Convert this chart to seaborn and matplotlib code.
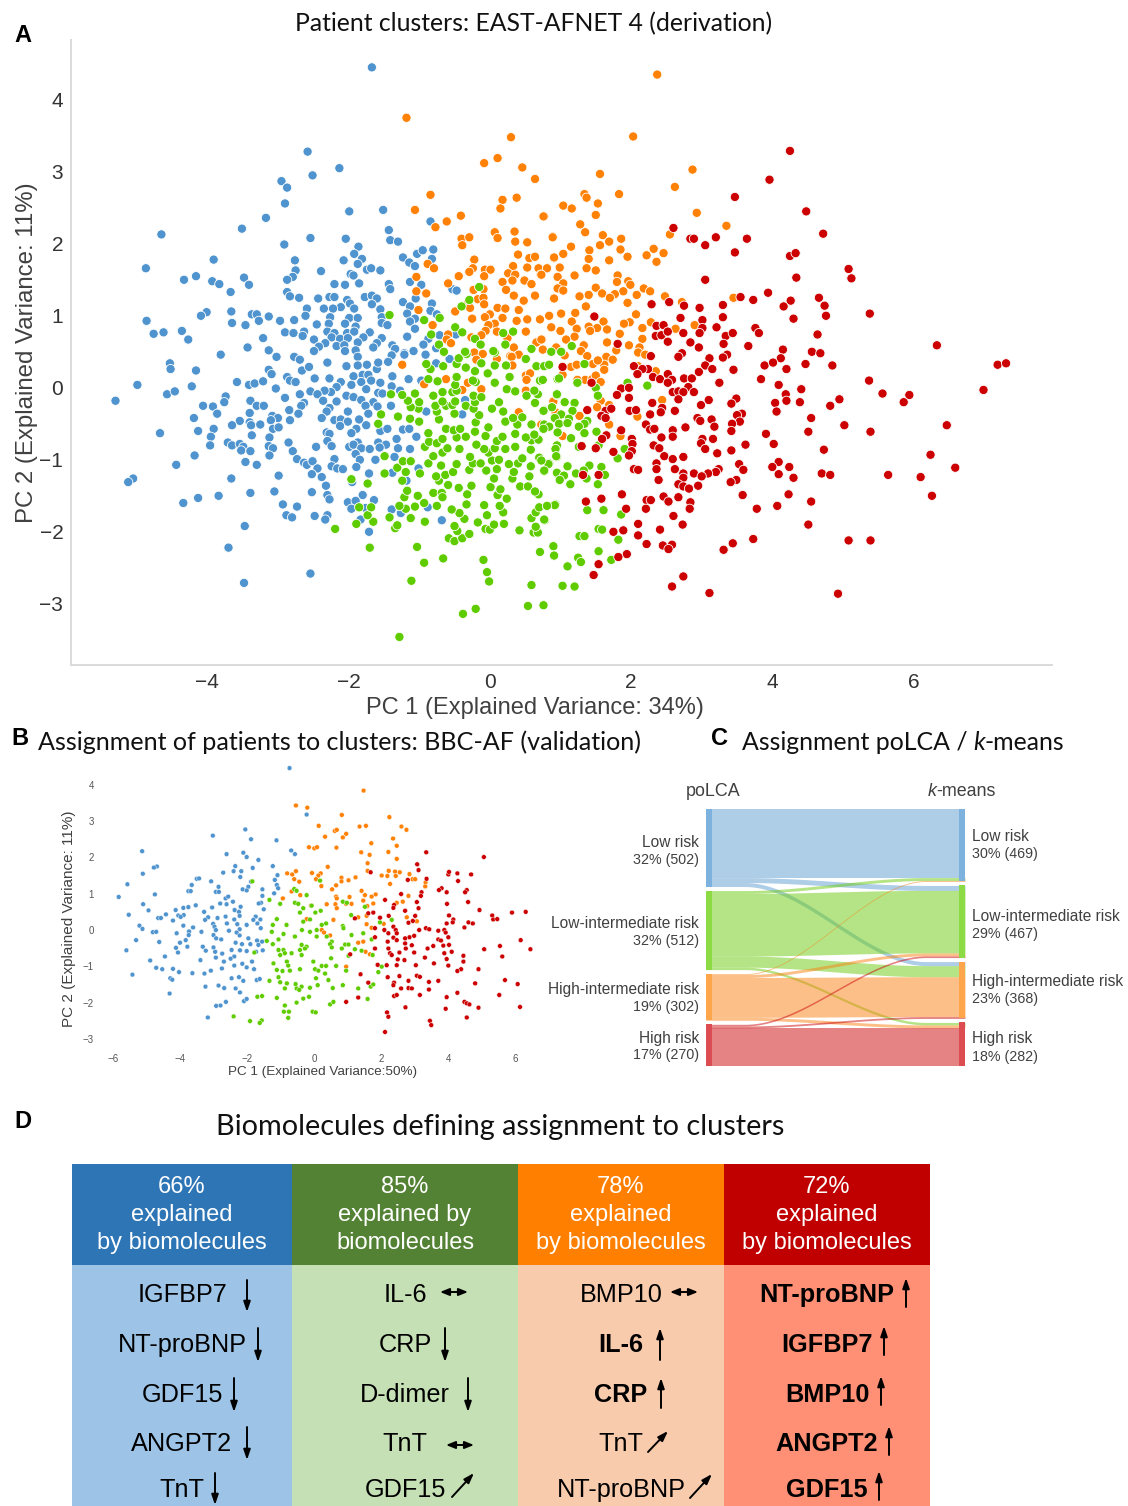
import numpy as np
import pandas as pd
import matplotlib
matplotlib.use('Agg')
import matplotlib.pyplot as plt
import seaborn as sns

sns.set_theme(style='white')
plt.rcParams['font.family'] = ['Liberation Sans', 'DejaVu Sans']

# panel A (PC1, PC2)
a_blue = [(-1.67,4.45),(-2.58,3.28),(-2.13,3.05),(-2.51,2.95),(-2.95,2.87),(-2.87,2.78),(-2.90,2.56),(-1.99,2.45),(-1.51,2.47),(-3.17,2.36),(-3.51,2.21),(-4.65,2.13),(-0.84,2.31),(-1.43,2.19),(-1.41,2.05),(-1.30,2.03),(-2.04,2.07),(-2.54,2.08),(-2.91,1.99),(-1.86,1.96),(-1.92,1.86),(-1.81,1.79),(-2.07,1.77),(-1.87,1.72),(-2.76,1.77),(-3.91,1.78),(-4.87,1.66),(-2.75,1.63),(-2.39,1.62),(-2.79,1.54),(-2.87,1.50),(-3.48,1.53),(-3.41,1.43),(-4.16,1.55),(-4.33,1.50),(-3.93,1.48),(-3.83,1.44),(-3.67,1.33),(-1.74,1.64),(-1.68,1.66),(-1.55,1.63),(-1.97,1.58),(-1.93,1.56),(-1.85,1.45),(-2.20,1.44),(-2.05,1.43),(-1.43,1.44),(-1.41,1.37),(-1.23,1.81),(-1.14,1.74),(-1.06,1.69),(-1.03,1.86),(-0.95,1.91),(-0.80,1.92),(-0.82,1.79),(-1.13,1.47),(-0.97,1.43),(-0.53,1.37),(-0.47,1.35),(-2.87,1.33),(-2.83,1.27),(-2.70,1.25),(-2.43,1.24),(-2.27,1.26),(-2.20,1.26),(-2.02,1.22),(-1.98,1.17),(-1.77,1.26),(-1.67,1.28),(-1.60,1.24),(-1.67,1.16),(-1.92,1.10),(-2.11,1.12),(-2.22,1.10),(-2.35,1.10),(-2.59,1.10),(-1.55,1.09),(-1.23,1.19),(-1.13,1.13),(-1.05,1.24),(-0.82,1.17),(-0.84,1.07),(-4.01,1.05),(-4.09,1.00),(-3.66,1.06),(-3.37,1.02),(-3.30,1.02),(-3.13,0.99),(-3.27,0.93),(-2.61,1.00),(-2.97,0.93),(-2.77,0.94),(-2.26,0.98),(-1.99,0.97),(-1.87,0.97),(-1.53,0.98),(-1.17,1.03),(-1.06,0.96),(-0.75,1.02),(-4.86,0.93),(-3.65,0.90),(-3.46,0.87),(-2.45,0.88),(-2.28,0.89),(-2.05,0.89),(-1.90,0.85),(-1.53,0.90),(-1.45,0.87),(-1.13,0.92),(-1.06,0.82),(-4.62,0.77),(-4.76,0.75),(-4.36,0.79),(-4.27,0.67),(-2.90,0.77),(-2.78,0.76),(-2.63,0.78),(-2.65,0.72),(-2.30,0.78),(-2.20,0.76),(-2.02,0.76),(-1.92,0.78),(-1.70,0.77),(-3.21,0.69),(-2.49,0.67),(-2.24,0.70),(-2.12,0.68),(-2.01,0.69),(-1.79,0.70),(-1.53,0.69),(-1.17,0.71),(-0.87,0.68),(-0.71,0.73),(-0.48,0.74),(-3.43,0.56),(-2.33,0.62),(-2.42,0.57),(-2.49,0.51),(-2.17,0.58),(-2.06,0.59),(-1.87,0.63),(-1.60,0.62),(-1.65,0.56),(-1.38,0.59),(-1.34,0.54),(-0.94,0.60),(-0.76,0.55),(-3.13,0.52),(-2.05,0.51),(-1.90,0.52),(-1.08,0.51),(-1.21,0.48),(-3.81,0.46),(-3.02,0.43),(-2.76,0.43),(-1.87,0.43),(-1.39,0.45),(-0.91,0.46),
(-4.53,0.34),(-4.52,0.26),(-4.16,0.24),(-4.99,0.04),(-5.30,-0.18),(-4.57,-0.09),(-4.46,-0.05),(-4.22,0.02),(-3.58,0.08),(-3.41,0.04),(-3.33,0.06),(-3.21,0.09),(-3.13,0.25),(-3.09,0.19),(-2.87,0.15),(-2.83,0.10),(-2.75,0.08),(-2.66,0.24),(-2.56,0.29),(-2.77,0.43),(-2.69,0.39),(-2.30,0.35),(-2.48,0.13),(-2.27,0.13),(-2.03,0.30),(-1.87,0.31),(-1.74,0.32),(-1.60,0.26),(-1.58,0.35),(-1.44,0.36),(-1.21,0.46),(-1.93,0.16),(-1.80,0.18),(-1.72,0.18),(-1.38,0.16),(-1.82,0.08),(-1.68,0.10),(-1.55,0.07),(-1.39,0.02),(-1.15,0.12),(-1.27,-0.04),(-1.96,0.04),(-2.11,0.08),(-2.17,0.01),(-2.25,-0.06),(-2.34,-0.04),(-2.54,-0.05),(-3.03,-0.01),(-2.69,-0.09),(-2.44,-0.09),(-1.75,-0.02),(-1.58,-0.07),(-1.52,-0.08),(-2.03,-0.11),(-1.93,-0.13),(-1.82,-0.17),(-2.17,-0.19),(-2.36,-0.18),(-2.90,-0.14),(-3.39,-0.18),(-3.74,-0.12),(-3.76,-0.20),(-2.63,-0.21),(-1.65,-0.20),(-1.76,-0.25),(-1.59,-0.26),(-1.40,-0.25),(-4.06,-0.25),(-3.92,-0.26),(-3.30,-0.25),(-3.20,-0.25),(-2.67,-0.25),(-3.86,-0.36),(-3.40,-0.35),(-2.84,-0.31),(-2.71,-0.36),(-2.27,-0.28),(-2.31,-0.33),(-2.01,-0.33),(-1.72,-0.36),(-0.90,-0.33),(-0.39,-0.37),(-4.19,-0.42),(-3.08,-0.39),(-3.00,-0.42),(-3.10,-0.45),(-3.54,-0.46),(-2.83,-0.45),(-2.38,-0.42),(-2.20,-0.45),(-2.11,-0.44),(-2.01,-0.47),(-1.85,-0.44),(-3.65,-0.52),(-3.40,-0.48),(-3.38,-0.52),(-3.25,-0.51),(-2.12,-0.53),(-1.75,-0.52),(-3.91,-0.57),(-4.13,-0.60),(-3.07,-0.57),(-2.99,-0.55),(-1.89,-0.57),(-1.96,-0.63),(-1.55,-0.60),(-1.45,-0.57),(-1.23,-0.58),(-1.14,-0.57),(-4.67,-0.63),(-3.95,-0.68),(-3.37,-0.66),(-3.12,-0.69),(-2.31,-0.62),(-2.27,-0.64),(-1.32,-0.71),(-1.04,-0.68),(-3.71,-0.76),(-2.85,-0.76),(-2.30,-0.74),(-1.87,-0.76),(-1.58,-0.76),(-3.96,-0.80),(-3.65,-0.80),(-3.54,-0.78),(-3.49,-0.82),(-3.13,-0.81),(-3.07,-0.84),(-2.46,-0.82),(-2.24,-0.81),(-1.99,-0.82),(-1.93,-0.79),(-1.47,-0.79),(-3.52,-0.87),(-3.39,-0.88),(-2.79,-0.88),(-1.82,-0.84),(-1.70,-0.85),(-1.56,-0.83),(-1.30,-0.84),(-1.13,-0.85),(-4.18,-0.94),(-3.12,-0.94),(-1.90,-0.92),(-2.73,-0.99),(-2.20,-0.99),(-1.84,-1.00),(-1.62,-1.00),(-1.35,-0.96),(-3.46,-1.03),(-4.44,-1.07),(-3.30,-1.07),(-2.63,-1.04),(-2.59,-1.07),(-2.51,-1.02),(-2.24,-1.09),(-2.16,-1.12),(-2.08,-1.13),(-1.89,-1.10),(-2.44,-1.12),(-1.01,-1.12),(-2.99,-1.22),(-2.52,-1.20),(-2.38,-1.24),(-1.71,-1.19),(-1.38,-1.18),(-1.18,-1.29),(-3.66,-1.26),(-5.05,-1.26),(-5.12,-1.31),(-1.95,-1.31),(-2.32,-1.36),(-2.52,-1.45),(-3.05,-1.44),(-3.39,-1.46),(-3.84,-1.50),(-4.13,-1.53),(-4.34,-1.60),(-2.30,-1.49),(-2.27,-1.55),(-1.80,-1.49),(-1.64,-1.56),(-2.01,-1.59),(-1.90,-1.57),(-2.93,-1.62),(-2.73,-1.65),(-1.96,-1.68),(-1.76,-1.67),(-1.39,-1.69),(-0.88,-1.66),(-2.88,-1.77),(-2.80,-1.80),(-2.48,-1.78),(-2.30,-1.77),(-2.33,-1.83),(-1.26,-1.74),(-1.83,-1.83),(-0.68,-1.84),(-3.47,-1.92),(-1.71,-2.00),(-3.70,-2.22),(-2.54,-2.58),(-3.48,-2.71),(-0.76,0.34),(-0.97,0.10),(-0.57,0.40),(-0.35,-0.17)]

a_orange = [(-1.18,3.75),(0.30,3.48),(-0.08,3.12),(0.11,3.19),(0.46,3.06),(0.64,2.90),(-0.84,2.68),(0.38,2.64),(0.18,2.61),(0.15,2.49),(-1.06,2.47),(0.77,2.38),(-0.61,2.31),(-0.41,2.39),(-0.77,2.23),(0.35,2.17),(0.07,2.16),(0.11,2.08),(0.89,2.10),(-0.40,2.07),(-0.29,2.09),(-0.39,1.98),(0.36,2.03),(0.53,2.02),(0.40,1.85),(0.56,1.80),(0.64,1.82),(0.91,1.80),(-0.22,1.78),(-0.88,1.72),(-0.79,1.66),(0.33,1.69),(0.53,1.67),(0.69,1.66),(0.81,1.66),(-0.07,1.64),(0.01,1.64),(-0.24,1.66),(-0.29,1.61),(0.26,1.59),(0.36,1.57),(0.72,1.57),(-0.08,1.55),(-0.44,1.55),(-1.04,1.54),(0.18,1.47),(0.32,1.49),(0.49,1.49),(-0.59,1.45),(0.59,1.44),(0.23,1.36),(-0.09,1.37),(-0.23,1.36),(-1.04,1.34),(-0.90,1.31),(0.34,1.28),(0.64,1.28),(-0.17,1.23),(-0.09,1.25),(0.48,1.21),(-0.08,1.16),(-0.32,1.16),(-0.28,1.11),(0.11,1.11),(0.22,1.10),(0.41,1.08),(-1.01,1.08),(-0.49,1.06),(0.00,1.02),(-0.07,0.98),(0.18,0.97),(-0.25,0.96),(0.38,0.93),(0.53,0.95),(0.71,0.95),(0.84,1.00),(0.07,0.89),(-0.81,0.87),(-0.02,0.87),(-0.06,0.79),(0.10,0.78),(0.51,0.78),(-0.59,0.74),(-0.61,0.67),(-0.12,0.73),(0.25,0.69),(-0.26,0.70),(0.74,0.67),(0.66,0.63),(-0.55,0.62),(0.34,0.56),(0.95,0.56),(0.75,0.53),(-0.22,0.49),(-0.10,0.47),(0.29,0.44),(0.41,0.46),
(2.37,4.35),(2.03,3.49),(2.87,3.03),(1.56,2.97),(2.62,2.79),(1.34,2.69),(1.37,2.64),(1.83,2.69),(1.53,2.56),(1.04,2.53),(1.16,2.49),(0.76,2.38),(1.50,2.40),(2.93,2.43),(3.35,2.25),(1.28,2.27),(1.35,2.16),(2.55,2.13),(1.60,2.12),(0.89,2.09),(1.86,2.07),(1.69,2.03),(1.56,1.98),(1.15,1.96),(1.41,1.91),(1.85,1.92),(1.04,1.86),(2.32,1.93),(2.46,1.87),(2.22,1.84),(1.95,1.82),(0.91,1.81),(1.40,1.79),(1.69,1.77),(2.36,1.75),(0.99,1.67),(0.81,1.66),(1.37,1.66),(1.50,1.63),(1.20,1.56),(0.73,1.57),(0.96,1.54),(1.81,1.56),(1.80,1.47),(1.96,1.48),(1.99,1.43),(1.04,1.45),(0.96,1.38),(1.04,1.35),(1.50,1.39),(1.59,1.31),(2.18,1.38),(2.27,1.34),(1.89,1.34),(1.77,1.30),(1.70,1.25),(1.40,1.29),(1.27,1.27),(2.08,1.29),(0.91,1.24),(2.48,1.27),(3.45,1.25),(1.95,1.18),(1.36,1.13),(2.72,1.19),(1.01,1.03),(1.21,1.04),(2.07,1.02),(0.84,1.00),(1.16,0.92),(1.61,0.92),(1.98,0.91),(1.90,0.89),(0.87,0.84),(1.23,0.82),(1.40,0.85),(1.52,0.83),(1.66,0.81),(1.00,0.79),(1.42,0.79),(2.16,0.83),(2.28,0.91),(2.90,0.87),(2.63,0.82),(1.84,0.75),(1.20,0.71),(2.16,0.68),(0.73,0.67),(1.08,0.67),(1.66,0.63),(1.97,0.59),(1.33,0.59),(0.94,0.56),(2.12,0.56),(1.79,0.52),(0.75,0.53),(1.29,0.51),(2.10,0.49),(2.20,0.46),(1.06,0.45),(1.38,0.44),(1.65,0.43),
(1.15,0.29),(1.23,0.32),(1.46,0.33),(1.62,0.32),(1.62,0.25),(1.74,0.39),(1.53,0.38),(2.10,0.30),(2.35,0.23),(1.03,0.18),(1.35,0.11),(1.45,0.12),(1.50,0.17),(1.57,0.08),(1.24,0.11),(2.44,-0.17),(0.90,-0.19),(1.57,-0.18),(1.69,-0.24),(1.52,-0.27),(1.27,-0.39),(2.09,-0.40),(1.69,-0.51),(1.03,-0.67),(1.85,-0.67),(-1.24,0.32),(-0.93,0.05),(-0.62,0.12),(-0.39,-0.03),(-0.12,-0.02),(-0.31,0.07),(0.51,0.17),(0.31,0.43),(0.10,0.40),(0.32,0.31),(0.57,0.20),(0.52,0.11),(-0.19,0.39),(0.51,-0.04),(0.41,-0.34),(0.90,-0.19),(0.93,-0.34),(0.73,-0.51)]

a_green = [(-1.28,-3.46),(-0.38,-3.14),(-0.20,-3.07),(0.54,-3.03),(0.76,-3.02),(-1.11,-2.68),(-0.93,-2.43),(-0.66,-2.37),(-1.03,-2.21),(-1.70,-2.22),(-0.09,-2.39),(-0.04,-2.56),(-0.01,-2.69),(0.59,-2.74),(0.71,-2.28),(0.90,-2.20),(0.91,-2.33),(-2.19,-1.96),(-1.89,-1.89),(-1.65,-1.86),(-1.73,-1.77),(-1.42,-1.80),(-1.34,-1.95),(-1.31,-1.91),(-1.12,-1.81),(-0.92,-1.86),(-0.58,-2.09),(-0.50,-2.13),(-0.39,-2.09),(-0.29,-2.03),(-0.46,-1.99),(-0.50,-1.92),(-0.17,-1.87),(-0.06,-1.96),(0.00,-1.97),(0.06,-1.90),(0.20,-1.89),(0.42,-1.98),(0.62,-2.01),(0.68,-2.01),(0.65,-1.93),(0.59,-1.81),(0.78,-1.84),(-0.36,-1.82),(-0.04,-1.77),(0.19,-1.73),(-0.43,-1.74),(-0.54,-1.69),(-0.33,-1.62),(-0.75,-1.64),(-0.93,-1.60),(-1.06,-1.65),(-1.19,-1.68),(-1.28,-1.64),(-1.68,-1.66),(-1.85,-1.66),(-0.08,-1.63),(0.14,-1.64),(0.65,-1.73),(0.70,-1.66),(0.81,-1.64),(0.93,-1.62),(-1.21,-1.52),(-1.02,-1.50),(-0.80,-1.46),(-0.68,-1.46),(-0.67,-1.52),(-0.32,-1.48),(0.24,-1.54),(0.11,-1.49),(0.69,-1.48),(-1.17,-1.43),(-0.44,-1.39),(-0.26,-1.36),(0.01,-1.38),(0.15,-1.41),(0.43,-1.37),(0.54,-1.37),(0.64,-1.44),(-1.73,-1.33),(-1.96,-1.27),(-1.24,-1.29),(-0.72,-1.29),(-0.59,-1.35),(-0.76,-1.23),(-0.63,-1.21),(0.06,-1.26),(0.32,-1.26),(0.56,-1.23),(0.95,-1.19),(-1.49,-1.19),(-1.19,-1.17),(-1.31,-1.11),(-0.99,-1.19),(-0.52,-1.17),(-0.29,-1.14),(-0.05,-1.15),(0.10,-1.13),(0.34,-1.17),(0.77,-1.16),(-0.69,-1.08),(-0.47,-1.06),(0.27,-1.06),(0.58,-1.09),(0.84,-1.05),(-1.23,-1.02),(-1.12,-1.02),(-0.87,-1.05),(-0.24,-1.05),(-0.13,-1.05),(0.03,-1.01),(0.13,-1.00),(0.40,-1.05),(-1.49,-0.95),(-0.80,-0.95),(-0.28,-0.96),(0.46,-0.98),(0.70,-0.97),(0.95,-0.96),(-0.67,-0.90),(-0.02,-0.90),(0.58,-0.86),(-0.92,-0.82),(-0.60,-0.84),(-0.43,-0.85),(-0.08,-0.85),(0.07,-0.84),(0.22,-0.85),(0.36,-0.82),(0.95,-0.80),(-0.86,-0.75),(-0.75,-0.77),(-0.19,-0.79),(0.10,-0.74),(0.59,-0.73),(-0.67,-0.71),(-0.47,-0.69),(-0.34,-0.68),(-0.06,-0.67),(0.18,-0.68),(0.51,-0.69),(0.69,-0.72),(-0.87,-0.63),(-1.00,-0.47),(-0.62,-0.57),(-0.51,-0.59),(-0.42,-0.57),(-0.21,-0.61),(-0.02,-0.55),(0.36,-0.64),(0.63,-0.65),(0.84,-0.54),(0.96,-0.62),(-1.58,-0.50),(-0.72,-0.44),(-0.20,-0.48),(0.22,-0.47),(0.39,-0.51),(0.59,-0.51),(0.77,-0.51),(-1.30,-0.40),(-1.13,-0.43),(-1.54,-0.37),(-0.75,-0.33),(-0.50,-0.36),(-0.15,-0.38),(0.33,-0.42),(0.46,-0.41),(0.92,-0.42),(-1.01,-0.29),(-1.12,-0.27),(-0.77,-0.25),(-0.62,-0.25),(-0.53,-0.24),(-0.34,-0.25),(-0.23,-0.29),(0.03,-0.29),(0.19,-0.33),(0.77,-0.31),(0.88,-0.27),(-1.16,-0.18),(-1.00,-0.20),(-0.67,-0.19),(-0.49,-0.19),(-0.21,-0.20),(0.13,-0.20),(0.64,-0.21),(-1.24,-0.10),(-1.40,-0.09),(-1.06,-0.08),(-0.80,-0.11),(-0.53,-0.06),(-0.23,-0.11),(-0.12,-0.13),(0.52,-0.11),(0.68,-0.09),(0.95,-0.10),(-0.67,-0.06),(-0.47,-0.04),(0.24,-0.02),(0.36,-0.05),(0.63,-0.04),(-0.74,0.09),(-0.87,0.12),(-0.49,0.04),(-0.20,0.08),(0.07,0.07),(0.28,0.15),(0.71,0.10),(0.96,0.12),(-0.47,0.15),(-0.03,0.20),(-0.24,0.10),(-0.84,0.26),(-0.66,0.30),(-0.34,0.28),(-0.21,0.23),(0.07,0.31),(0.23,0.31),(0.66,0.30),(0.78,0.30),(-0.90,0.33),(-0.47,0.33),(-0.12,0.34),(0.51,0.40),(-0.65,0.49),(-0.33,0.47),(-0.44,0.41),(0.07,0.49),(0.87,0.50),
(-1.42,1.01),(-0.93,0.94),(-0.71,0.97),(-0.15,1.40),(-0.29,1.22),(-0.40,1.13),(-0.49,0.84),(-0.39,0.77),(-0.83,0.74),(-0.72,0.60),(-0.65,0.50),(-0.21,0.68),(-0.13,0.60),(0.19,0.76),(0.33,0.78),(0.22,0.60),(0.59,0.54),(-0.35,0.50),(0.05,0.51),(1.16,0.58),(1.01,0.50),(1.34,0.33),(0.77,0.30),(0.84,0.32),(0.98,0.13),(0.75,0.11),(1.24,0.07),(1.50,0.00),(1.95,0.07),(2.23,0.03),(1.53,-0.11),(0.95,-0.09),(1.06,-0.20),(1.20,-0.21),(0.88,-0.27),(0.76,-0.32),(1.17,-0.32),(1.01,-0.37),(0.92,-0.42),(1.12,-0.43),(1.38,-0.46),(0.98,-0.50),(1.10,-0.49),(1.34,-0.50),(1.26,-0.54),(0.84,-0.54),(0.76,-0.57),(1.51,-0.61),(0.96,-0.62),(1.34,-0.63),(1.15,-0.70),(0.95,-0.80),(1.26,-0.82),(0.93,-0.85),(1.54,-0.80),(1.91,-0.85),(0.94,-0.95),(1.81,-0.98),(0.83,-1.06),(0.73,-1.01),(1.10,-1.09),(1.41,-1.08),(1.58,-1.10),(0.77,-1.15),(0.95,-1.18),(1.05,-1.22),(1.22,-1.19),(1.33,-1.15),(1.63,-1.21),(0.99,-1.28),(1.14,-1.34),(1.37,-1.26),(1.53,-1.34),(0.92,-1.63),(0.81,-1.64),(1.38,-1.70),(1.61,-1.70),(1.86,-1.76),(0.77,-1.83),(1.54,-1.96),(1.59,-1.97),(1.27,-2.06),(1.34,-2.06),(1.82,-2.11),(0.90,-2.20),(1.54,-2.27),(0.91,-2.33),(1.25,-2.36),(1.29,-2.42),(1.72,-2.39),(1.10,-2.48),(1.03,-2.75),(1.20,-2.76)]

a_red = [(4.25,3.29),(3.96,2.89),(3.47,2.65),(4.48,2.45),(4.72,2.14),(2.60,2.22),(2.84,2.07),(2.89,2.07),(3.20,2.09),(3.64,2.07),(3.05,1.98),(3.47,1.88),(4.25,1.83),(4.33,1.87),(5.08,1.65),(5.12,1.52),(3.05,1.50),(4.34,1.53),(3.94,1.32),(3.55,1.26),(3.73,1.22),(4.26,1.21),(4.66,1.25),(4.16,1.13),(4.74,1.14),(4.76,1.00),(5.38,1.03),(2.29,1.16),(2.54,1.19),(2.75,1.14),(2.97,1.11),(3.30,1.15),(1.48,0.99),(2.70,0.97),(3.01,0.94),(3.30,0.98),(4.30,0.96),(2.36,0.86),(2.46,0.87),(3.01,0.83),(3.21,0.84),(3.76,0.83),(2.35,0.72),(2.43,0.73),(2.52,0.78),(2.74,0.76),(2.97,0.76),(3.34,0.72),(3.44,0.76),(3.81,0.76),(4.64,0.74),(2.52,0.64),(2.84,0.63),(3.31,0.61),(1.81,0.61),(2.96,0.56),(3.66,0.58),(6.33,0.59),(4.15,0.53),(4.56,0.50),(4.68,0.48),(2.72,0.48),(2.28,0.44),(3.36,0.46),(2.67,0.43),(3.11,0.41),(3.30,0.42),(4.12,0.41),
(3.89,0.31),(4.01,0.35),(4.47,0.33),(4.85,0.31),(4.20,0.26),(3.05,0.31),(3.15,0.26),(3.45,0.25),(2.96,0.22),(1.03,0.29),(2.04,0.30),(2.24,0.26),(2.16,0.26),(2.09,0.19),(7.19,0.32),(7.31,0.34),(3.84,0.12),(5.37,0.10),(2.31,0.15),(2.41,0.12),(2.52,0.19),(2.58,0.11),(2.75,0.13),(2.86,0.13),(3.25,0.07),(2.52,0.07),(1.44,0.07),(4.09,0.04),(4.41,-0.02),(2.81,0.01),(6.99,-0.03),(1.86,-0.01),(1.97,0.00),(1.80,-0.10),(2.59,-0.06),(2.67,-0.05),(2.74,-0.06),(2.89,-0.06),(4.19,-0.09),(5.56,-0.08),(5.94,-0.10),(1.97,-0.14),(2.67,-0.16),(3.49,-0.15),(3.10,-0.17),(4.20,-0.18),(4.95,-0.16),(2.30,-0.21),(3.42,-0.22),(4.04,-0.21),(4.39,-0.20),(5.86,-0.20),(2.99,-0.24),(4.82,-0.25),(1.38,-0.31),(1.64,-0.32),(1.72,-0.29),(1.98,-0.32),(2.07,-0.31),(2.44,-0.28),(2.42,-0.34),(2.62,-0.32),(4.06,-0.33),(2.27,-0.37),(1.58,-0.39),(1.64,-0.42),(3.57,-0.36),(3.50,-0.38),(4.55,-0.42),(2.94,-0.42),(3.14,-0.44),(2.98,-0.46),(3.54,-0.47),(5.02,-0.52),(6.47,-0.52),(2.21,-0.51),(2.77,-0.55),(3.18,-0.54),(3.43,-0.50),(1.86,-0.59),(2.27,-0.58),(2.33,-0.57),(2.59,-0.59),(3.42,-0.60),(4.51,-0.61),(5.39,-0.61),(3.91,-0.64),(1.65,-0.66),(2.59,-0.68),(2.43,-0.69),(1.59,-0.71),(2.01,-0.71),(3.01,-0.71),(3.16,-0.71),(2.02,-0.78),(2.99,-0.77),(4.02,-0.78),(3.62,-0.79),(2.32,-0.80),(2.40,-0.84),(1.50,-0.84),(1.30,-0.81),(4.73,-0.86),(3.05,-0.85),(3.42,-0.87),(1.75,-0.89),(2.01,-0.88),(3.22,-0.91),(1.97,-0.94),(6.24,-0.93),(2.47,-0.95),(2.74,-0.96),(2.59,-0.99),(4.09,-1.03),(3.53,-1.06),(2.36,-1.05),(4.00,-1.10),(4.24,-1.10),(6.59,-1.11),(2.04,-1.13),(2.10,-1.14),(2.36,-1.13),(2.62,-1.13),(3.24,-1.13),(3.59,-1.14),(3.20,-1.17),(2.74,-1.19),(2.89,-1.19),(3.09,-1.19),(3.00,-1.23),(1.32,-1.21),(1.54,-1.21),(4.09,-1.20),(4.70,-1.19),(4.82,-1.21),(5.64,-1.21),(6.10,-1.24),(2.74,-1.25),(4.30,-1.25),(2.39,-1.28),(3.49,-1.28),(3.41,-1.31),(2.67,-1.34),(2.95,-1.36),(2.74,-1.37),(2.82,-1.40),(3.58,-1.49),(4.23,-1.48),(1.87,-1.48),(2.46,-1.51),(2.67,-1.52),(6.26,-1.50),(1.58,-1.54),(1.36,-1.58),(2.22,-1.56),(2.28,-1.56),(2.53,-1.58),(2.84,-1.59),(4.55,-1.58),(4.07,-1.64),(3.78,-1.68),(2.83,-1.68),(2.21,-1.68),(1.93,-1.68),(2.60,-1.78),(2.10,-1.89),(2.73,-1.90),(4.51,-1.90),(2.41,-1.97),(1.75,-2.00),(1.89,-1.98),(2.10,-2.05),(5.08,-2.12),(5.39,-2.12),(3.73,-2.10),(3.44,-2.16),(2.22,-2.17),(2.58,-2.18),(2.45,-2.19),(2.53,-2.24),(3.31,-2.25),(1.94,-2.31),(1.82,-2.35),(1.54,-2.45),(1.47,-2.60),(2.74,-2.62),(2.58,-2.76),(3.11,-2.85),(4.93,-2.86)]

# panel B
b_blue = [(-0.73,4.46),(-0.22,3.18),(-2.05,2.77),(-3.02,2.60),(-1.88,2.50),(-1.12,2.47),(-5.13,2.17),(-0.68,2.19),(-0.57,2.09),(-2.61,2.09),(-2.11,2.13),(-2.01,2.01),(-1.66,1.93),(-4.69,1.75),(-4.78,1.72),(-1.83,1.71),(-2.35,1.76),(-1.23,1.76),(-5.11,1.55),(-2.71,1.58),(-2.40,1.62),(-2.17,1.62),(-2.20,1.46),(-1.09,1.51),(-3.50,1.41),(-3.43,1.42),(-3.07,1.34),(-1.88,1.33),(-1.17,1.38),(-5.57,1.26),(-3.65,1.24),(-2.85,1.19),(-1.96,1.19),(-1.11,1.24),(-3.75,1.07),(-3.68,1.07),(-2.93,1.05),(-2.84,1.05),(-2.13,1.12),(-2.01,1.09),(-1.54,1.12),(-1.07,1.15),(-4.75,0.98),(-5.83,0.91),(-1.54,0.94),(-1.19,1.01),(-2.64,0.87),(-2.56,0.92),(-5.10,0.71),(-2.80,0.73),(-1.58,0.75),(-2.61,0.71),(-2.42,0.78),(-3.53,0.68),(-3.90,0.61),(-3.75,0.63),(-3.04,0.62),(-2.19,0.64),(-1.65,0.73),(-4.94,0.54),(-4.13,0.55),(-2.37,0.55),(-2.24,0.50),(-1.50,0.57),(-5.53,0.42),(-4.42,0.43),(-4.05,0.40),(-3.89,0.41),(-3.28,0.50),(-4.65,0.33),(-4.57,0.33),(-3.98,0.36),(-3.16,0.35),(-2.88,0.33),(-2.64,0.37),(-2.22,0.39),(-1.74,0.37),(-4.21,0.26),(-3.25,0.28),(-3.01,0.17),(-2.38,0.29),(-1.60,0.29),(-1.81,0.28),(-1.69,0.18),(-5.21,0.12),(-3.90,0.12),(-3.61,0.07),(-2.97,0.09),(-2.60,0.18),(-2.29,0.16),(-2.01,0.14),(-5.12,0.03),(-3.73,-0.04),(-3.36,-0.05),(-2.93,0.00),(-2.54,-0.02),(-2.22,0.02),(-1.59,0.05),(-4.81,-0.06),(-4.71,-0.05),(-4.10,-0.09),(-3.74,-0.14),(-3.00,-0.14),(-2.31,-0.07),(-2.22,-0.15),(-5.31,-0.28),(-4.62,-0.33),(-3.83,-0.28),(-4.00,-0.35),(-2.92,-0.23),(-2.77,-0.26),(-1.96,-0.23),(-1.70,-0.29),(-1.55,-0.32),(-2.34,-0.35),(-4.12,-0.49),(-3.78,-0.46),(-3.32,-0.46),(-3.00,-0.48),(-2.15,-0.39),(-1.90,-0.39),(-1.66,-0.41),(-5.60,-0.56),(-4.06,-0.62),(-3.23,-0.57),(-2.95,-0.60),(-2.46,-0.55),(-2.21,-0.56),(-2.01,-0.58),(-1.73,-0.60),(-1.53,-0.56),(-4.45,-0.73),(-2.74,-0.65),(-2.38,-0.73),(-2.93,-0.76),(-4.89,-0.84),(-3.39,-0.83),(-2.69,-0.87),(-2.49,-0.79),(-1.85,-0.87),(-2.14,-0.93),(-4.71,-1.04),(-4.53,-1.08),(-4.21,-1.07),(-4.03,-1.16),(-3.63,-1.19),(-3.08,-1.12),(-3.27,-1.20),(-2.75,-1.06),(-2.38,-0.98),(-2.01,-1.03),(-1.79,-1.08),(-5.42,-1.23),(-4.29,-1.33),(-4.23,-1.37),(-2.46,-1.33),(-2.24,-1.30),(-2.11,-1.40),(-1.71,-1.38),(-1.62,-1.35),(-3.24,-1.56),(-2.85,-1.53),(-2.68,-1.60),(-2.34,-1.61),(-4.31,-1.75),(-2.21,-1.72),(-2.63,-1.98),(-2.09,-1.96),(-2.01,-1.90),(-2.92,-2.09),(-2.79,-2.08),(-3.17,-2.41)]

b_orange = [(1.48,3.84),(-0.54,3.43),(-0.20,3.37),(0.83,3.17),(2.25,3.11),(0.14,2.87),(1.36,2.85),(1.55,2.87),(2.61,2.85),(2.76,2.76),(0.62,2.73),(0.68,2.76),(0.96,2.65),(0.33,2.57),(0.86,2.55),(2.36,2.52),(1.71,2.39),(-0.15,2.28),(0.01,2.25),(0.09,2.28),(0.67,2.27),(2.47,2.32),(1.41,2.14),(2.22,2.15),(1.66,2.07),(2.47,1.96),(1.60,1.84),(0.41,1.74),(-0.54,1.62),(2.23,1.63),(1.60,1.63),(2.42,1.61),(2.56,1.59),(-0.80,1.56),(-0.65,1.53),(-0.06,1.57),(0.20,1.56),(0.13,1.50),(2.02,1.50),(2.19,1.49),(2.44,1.49),(2.85,1.54),(1.24,1.45),(-0.59,1.40),(-0.44,1.33),(0.06,1.40),(0.82,1.44),(0.82,1.34),(1.03,1.37),(2.94,1.40),(3.02,1.40),(2.27,1.27),(0.22,1.21),(0.66,1.23),(0.54,1.12),(1.42,1.08),(3.33,1.31),(3.32,1.20),(-0.67,1.06),(-0.41,0.96),(1.84,0.98),(0.66,0.92),(1.06,0.91),(1.52,0.96),(1.72,0.92),(2.82,0.94),(-0.93,0.87),(0.68,0.87),(0.38,0.71),(0.64,0.71),(0.96,0.72),(1.12,0.72),(2.47,0.75),(1.47,0.81),(1.77,0.73),(-0.09,0.67),(2.65,0.78),(0.68,0.60),(1.59,0.66),(1.32,0.35),(1.57,0.39),(-0.22,0.30),(0.58,0.28),(2.77,0.35),(1.57,0.16),(1.72,0.06),(3.07,0.24),(0.23,0.00),(0.30,-0.07),(0.48,-0.15),(1.32,-0.35),(1.47,-0.32),(1.54,-0.60),(1.67,-0.67),(0.96,-1.01),(2.08,0.17)]

b_green = [(-1.84,1.34),(-0.59,1.13),(-0.52,1.08),(-0.22,0.96),(0.18,1.36),(-1.33,0.83),(-1.01,0.72),(-0.57,0.75),(-0.47,0.72),(-0.07,0.67),(-0.32,0.60),(0.86,0.78),(0.98,0.75),(1.52,0.64),(-0.42,0.48),(0.04,0.48),(1.11,0.41),(0.20,0.53),(-1.11,0.30),(-0.32,0.23),(-0.12,0.29),(0.36,0.18),(0.23,0.14),(-1.23,0.14),(-0.82,0.14),(0.86,0.11),(0.88,0.05),(1.97,0.21),(2.32,0.28),(-1.26,-0.05),(-0.91,-0.11),(-0.36,0.00),(-0.12,-0.05),(0.08,0.00),(1.12,-0.14),(1.47,-0.09),(-1.06,-0.26),(-1.41,-0.30),(-0.57,-0.18),(0.08,-0.18),(0.38,-0.18),(0.53,-0.32),(1.72,-0.26),(-1.23,-0.39),(-0.37,-0.41),(-0.22,-0.46),(0.48,-0.39),(0.93,-0.40),(1.03,-0.40),(-1.06,-0.55),(-0.91,-0.55),(-0.42,-0.55),(-0.27,-0.51),(0.53,-0.48),(0.83,-0.51),(1.22,-0.53),(-1.78,-0.62),(-1.01,-0.69),(-0.87,-0.64),(-0.67,-0.64),(-0.37,-0.69),(1.03,-0.71),(1.42,-0.57),(1.75,-0.69),(-0.81,-0.87),(0.51,-0.78),(-0.02,-0.87),(-1.21,-0.92),(-0.77,-0.98),(0.23,-0.99),(0.36,-0.99),(0.66,-0.99),(-1.11,-1.10),(-0.94,-1.13),(-0.42,-1.08),(0.03,-1.08),(0.13,-1.12),(0.96,-1.12),(2.02,-1.01),(1.92,-1.16),(-1.33,-1.40),(-1.06,-1.30),(-0.72,-1.12),(0.06,-1.33),(0.33,-1.20),(0.43,-1.38),(-1.01,-1.44),(-0.81,-1.47),(-0.55,-1.49),(-0.37,-1.56),(0.11,-1.52),(0.86,-1.52),(1.69,-1.56),(1.77,-1.50),(-0.87,-1.61),(-0.52,-1.61),(-0.44,-1.65),(-0.12,-1.59),(0.56,-1.60),(1.32,-1.61),(-1.69,-1.84),(-1.55,-1.82),(-1.11,-1.87),(-0.32,-1.89),(-0.15,-1.84),(1.60,-1.90),(-0.52,-2.00),(0.48,-2.05),(0.58,-1.98),(-0.87,-2.08),(-0.90,-2.25),(-0.75,-2.25),(-0.04,-2.25),(0.05,-2.27),(-0.77,-2.42),(-2.40,-2.38),(-1.91,-2.51),(-1.56,-2.49),(-1.62,-2.56)]

b_red = [(3.35,2.14),(5.07,2.01),(3.08,1.81),(1.69,1.59),(3.12,1.65),(4.01,1.53),(4.03,1.60),(4.28,1.56),(4.69,1.53),(2.80,1.38),(3.36,1.41),(4.30,1.35),(3.81,1.15),(3.73,1.10),(3.96,1.04),(4.56,1.10),(4.51,1.04),(2.60,0.99),(3.21,1.04),(3.19,0.94),(2.12,0.83),(2.39,0.69),(3.07,0.77),(3.97,0.72),(4.60,0.77),(2.37,0.61),(2.72,0.53),(3.12,0.60),(4.94,0.55),(1.62,0.46),(1.77,0.48),(5.91,0.48),(6.32,0.50),(4.03,0.40),(5.32,0.40),(3.02,0.39),(1.97,0.34),(2.23,0.39),(5.35,0.29),(5.47,0.30),(1.22,0.32),(4.16,0.29),(2.82,0.20),(2.95,0.25),(4.14,0.21),(4.61,0.21),(4.74,0.18),(3.96,0.18),(2.37,0.09),(4.49,0.07),(3.34,0.05),(3.44,0.02),(1.82,0.05),(2.10,0.00),(2.44,0.00),(3.14,0.00),(3.71,-0.02),(3.89,0.00),(2.22,-0.09),(2.47,-0.09),(2.99,-0.16),(3.93,-0.07),(1.82,-0.20),(2.37,-0.21),(2.72,-0.23),(2.85,-0.20),(4.01,-0.20),(2.20,-0.32),(2.47,-0.28),(3.71,-0.26),(3.79,-0.29),(6.17,-0.28),(2.72,-0.37),(2.92,-0.42),(3.56,-0.44),(3.86,-0.43),(4.03,-0.41),(5.55,-0.44),(2.22,-0.51),(2.74,-0.51),(3.39,-0.51),(5.08,-0.53),(6.46,-0.53),(1.82,-0.51),(2.27,-0.64),(2.55,-0.62),(2.99,-0.62),(3.89,-0.64),(4.11,-0.60),(1.08,-0.67),(2.32,-0.69),(4.46,-0.71),(5.62,-0.73),(3.31,-0.76),(3.96,-0.80),(2.50,-0.81),(2.70,-0.83),(4.46,-0.87),(3.58,-0.92),(3.04,-0.97),(1.90,-0.96),(2.17,-0.97),(2.47,-0.97),(4.01,-0.98),(4.39,-1.08),(4.28,-1.13),(4.91,-1.08),(1.39,-1.22),(2.20,-1.30),(2.55,-1.27),(3.07,-1.26),(3.16,-1.29),(1.62,-1.45),(2.39,-1.45),(2.82,-1.40),(3.43,-1.43),(3.71,-1.40),(4.81,-1.47),(5.70,-1.38),(6.08,-1.49),(2.37,-1.52),(2.60,-1.61),(2.82,-1.60),(2.92,-1.61),(3.43,-1.64),(4.28,-1.73),(3.16,-1.79),(2.39,-1.82),(2.47,-1.79),(1.32,-1.86),(3.96,-1.85),(5.53,-1.79),(0.96,-1.98),(4.49,-1.98),(4.56,-2.02),(4.64,-2.05),(2.73,-2.13),(4.91,-2.14),(6.15,-2.12),(3.93,-2.17),(2.18,-2.27),(2.22,-2.39),(4.56,-2.41),(3.46,-2.50),(3.50,-2.62),(2.12,-2.81)]

palette = {'low': '#4F94CE', 'low_int': '#5FCC00', 'high_int': '#FF8106', 'high': '#CC0000'}

# panel C, patients moving between poLCA (rows) and k-means (columns)
risk_names = ['Low risk', 'Low-intermediate risk', 'High-intermediate risk', 'High risk']
polca_pct = ['32% (502)', '32% (512)', '19% (302)', '17% (270)']
kmeans_pct = ['30% (469)', '29% (467)', '23% (368)', '18% (282)']
flows = [[444, 32, 26, 0],
         [19, 405, 72, 16],
         [6, 19, 258, 19],
         [0, 11, 12, 247]]
flow_colors = ['#5E9DD0', '#6BCB0F', '#FB8112', '#CB070B']
node_colors = ['#7DB1DE', '#8CDB45', '#FFA64D', '#DC4C50']

# panel D
explained = ['66%\nexplained\nby biomolecules', '85%\nexplained by\nbiomolecules',
             '78%\nexplained\nby biomolecules', '72%\nexplained\nby biomolecules']
head_colors = ['#2E75B6', '#548235', '#FF8000', '#C00000']
body_colors = ['#9DC3E6', '#C5E0B4', '#F8CBAD', '#FF8F75']
markers = [['IGFBP7', 'NT-proBNP', 'GDF15', 'ANGPT2', 'TnT'],
           ['IL-6', 'CRP', 'D-dimer', 'TnT', 'GDF15'],
           ['BMP10', 'IL-6', 'CRP', 'TnT', 'NT-proBNP'],
           ['NT-proBNP', 'IGFBP7', 'BMP10', 'ANGPT2', 'GDF15']]
bold_rows = [[], [], [1, 2], [0, 1, 2, 3, 4]]

W, H = 1128, 1506


def px_axes(left, top, right, bottom):
    return fig.add_axes([left / W, 1 - bottom / H, (right - left) / W, (bottom - top) / H])


def cluster_frame(blue, orange, green, red):
    # drawn in this order, green sits over orange like in the original
    frames = []
    for name, pts in zip(['low', 'high_int', 'low_int', 'high'], [blue, orange, green, red]):
        d = pd.DataFrame(pts, columns=['pc1', 'pc2'])
        d['cluster'] = name
        frames.append(d)
    return pd.concat(frames, ignore_index=True)


fig = plt.figure(figsize=(W / 100, H / 100), dpi=100, facecolor='white')

# whole-figure layer for titles and the table
canvas = fig.add_axes([0, 0, 1, 1])
canvas.set_xlim(0, W)
canvas.set_ylim(H, 0)
canvas.axis('off')

# A
ax_a = px_axes(71, 40, 1052, 665)
sns.scatterplot(data=cluster_frame(a_blue, a_orange, a_green, a_red), x='pc1', y='pc2', hue='cluster',
                palette=palette, s=44, edgecolor='white', linewidth=0.6, legend=False, ax=ax_a)
ax_a.set_xlim(-5.93, 7.96)
ax_a.set_ylim(-3.85, 4.83)
ax_a.set_xticks([-4, -2, 0, 2, 4, 6])
ax_a.set_yticks([-3, -2, -1, 0, 1, 2, 3, 4])
ax_a.tick_params(axis='x', length=0, labelsize=15, labelcolor='#333333', pad=6)
ax_a.tick_params(axis='y', length=0, labelsize=15, labelcolor='#333333', pad=5.5)
ax_a.set_xlabel('PC 1 (Explained Variance: 34%)', fontsize=17, color='#404040', labelpad=3.5,
                x=(535 - 71) / 981)
ax_a.set_ylabel('PC 2 (Explained Variance: 11%)', fontsize=17.25, color='#404040', labelpad=1)
sns.despine(ax=ax_a)
for side in ['left', 'bottom']:
    ax_a.spines[side].set_color('#DADADA')
    ax_a.spines[side].set_linewidth(1.4)
ax_a.patch.set_alpha(0)

# B
ax_b = px_axes(98, 762, 535, 1050)
sns.scatterplot(data=cluster_frame(b_blue, b_orange, b_green, b_red), x='pc1', y='pc2', hue='cluster',
                palette=palette, s=12, edgecolor='white', linewidth=0.3, legend=False, ax=ax_b)
ax_b.set_xlim((98 - 314) / 33.5, (535 - 314) / 33.5)
ax_b.set_ylim((930 - 1050) / 36.3, (930 - 762) / 36.3)
ax_b.set_xticks([-6, -4, -2, 0, 2, 4, 6])
ax_b.set_yticks([-3, -2, -1, 0, 1, 2, 3, 4])
ax_b.tick_params(length=0, labelsize=7, labelcolor='#555555', pad=3)
ax_b.set_xlabel('PC 1 (Explained Variance:50%)', fontsize=9.7, color='#404040', labelpad=1.5, x=0.513)
ax_b.set_ylabel('PC 2 (Explained Variance: 11%)', fontsize=10.95, color='#404040', labelpad=5, y=0.455)
sns.despine(ax=ax_b, left=True, bottom=True)
ax_b.patch.set_alpha(0)

# C, sankey stacked from the flow table
ax_c = px_axes(706, 809, 965, 1066)
gap = 26
flow_arr = np.array(flows)
left_totals = flow_arr.sum(axis=1)
right_totals = flow_arr.sum(axis=0)
left_tops = np.concatenate([[0], np.cumsum(left_totals + gap)[:-1]])
right_tops = np.concatenate([[0], np.cumsum(right_totals + gap)[:-1]])
ax_c.set_xlim(0, 1)
ax_c.set_ylim(left_totals.sum() + 3 * gap, 0)
ax_c.axis('off')
t = np.linspace(0, 1, 120)
u = np.clip((t - 0.15) / 0.7, 0, 1)
ease = 3 * u**2 - 2 * u**3
left_used = left_tops.astype(float).copy()
for i in range(4):
    for j in range(4):
        v = flows[i][j]
        if v == 0:
            continue
        y0 = left_used[i]
        y1 = right_tops[j] + flow_arr[:i, j].sum()
        top = y0 + (y1 - y0) * ease
        ax_c.fill_between(t, top, top + v, color=flow_colors[i], alpha=0.5, lw=0)
        left_used[i] += v
for i in range(4):
    ax_c.bar(0, left_totals[i], width=0.023, bottom=left_tops[i], align='edge', color=node_colors[i], lw=0)
    ax_c.bar(1, right_totals[i], width=-0.023, bottom=right_tops[i], align='edge', color=node_colors[i], lw=0)

left_name_y = [842, 923, 989, 1038]
right_name_y = [836, 916, 981, 1039]
c_size = 11.2
for i in range(4):
    canvas.text(699, left_name_y[i], risk_names[i], ha='right', va='center', fontsize=c_size, color='#404040')
    canvas.text(699, left_name_y[i] + 17.5, polca_pct[i], ha='right', va='center', fontsize=c_size - 0.9, color='#404040')
    canvas.text(972, right_name_y[i], risk_names[i], ha='left', va='center', fontsize=c_size, color='#404040')
    canvas.text(972, right_name_y[i] + 17.5, kmeans_pct[i], ha='left', va='center', fontsize=c_size - 0.9, color='#404040')
canvas.text(713, 791, 'poLCA', ha='center', va='center', fontsize=12.9, color='#404040')
canvas.text(928, 791, 'k', ha='left', va='center', fontsize=12.9, style='italic', color='#404040')
canvas.text(936, 791, '-means', ha='left', va='center', fontsize=12.9, color='#404040')

# titles and panel letters
title_font = ['Lato', 'DejaVu Sans']
canvas.text(534, 24, 'Patient clusters: EAST-AFNET 4 (derivation)', ha='center', va='center',
            fontsize=17.8, family=title_font, color='#111111')
canvas.text(38, 742, 'Assignment of patients to clusters: BBC-AF (validation)', ha='left', va='center',
            fontsize=18.1, family=title_font, color='#111111')
canvas.text(742, 742, 'Assignment poLCA / ', ha='left', va='center', fontsize=17.9, family=title_font, color='#111111')
canvas.text(973, 742, 'k', ha='left', va='center', fontsize=17.9, family=title_font, style='italic', color='#111111')
canvas.text(985, 742, '-means', ha='left', va='center', fontsize=17.9, family=title_font, color='#111111')
canvas.text(500, 1127, 'Biomolecules defining assignment to clusters', ha='center', va='center',
            fontsize=20.75, family=title_font, color='#111111')
for letter, lx, ly in [('A', 14, 35), ('B', 11, 738), ('C', 711, 738), ('D', 14, 1121)]:
    canvas.text(lx, ly, letter, fontsize=17, fontweight='bold', ha='left', va='center', color='black')

# D, coloured columns then the rows of markers
col_edges = [72, 292, 518, 724, 930]
col_centers = [182, 405, 621, 827]
row_y = [1295, 1345, 1395, 1444, 1490]
for c in range(4):
    w = col_edges[c + 1] - col_edges[c]
    canvas.bar(col_edges[c], 101, width=w, bottom=1164, align='edge', color=head_colors[c], lw=0)
    canvas.bar(col_edges[c], 241, width=w, bottom=1265, align='edge', color=body_colors[c], lw=0)
    canvas.text(col_centers[c], 1215, explained[c], ha='center', va='center', fontsize=17,
                color='white', linespacing=1.36)
    for r, name in enumerate(markers[c]):
        weight = 'bold' if r in bold_rows[c] else 'normal'
        canvas.text(col_centers[c], row_y[r], name, ha='center', va='center', fontsize=18.2,
                    fontweight=weight, color='black')

# trend arrows: start and end pixel of each one
down = [(247, 1280, 1312), (258, 1328, 1362), (234, 1378, 1412), (247, 1427, 1460), (215, 1473, 1505),
        (445, 1328, 1362), (468, 1378, 1412)]
up = [(660, 1360, 1328), (661, 1408, 1378), (906, 1307, 1278), (884, 1355, 1326), (881, 1405, 1376),
      (889, 1455, 1426), (879, 1500, 1471)]
level = [(440, 468, 1292), (446, 474, 1445), (670, 698, 1292)]
rising = [(452, 1497, 474, 1473), (648, 1452, 668, 1431), (690, 1498, 712, 1474)]
arrow_style = dict(arrowstyle='-|>,head_length=0.5,head_width=0.17', color='black', lw=1.4, shrinkA=0, shrinkB=0)
for x, y0, y1 in down + up:
    canvas.annotate('', xy=(x, y1), xytext=(x, y0), arrowprops=arrow_style)
for x0, y0, x1, y1 in rising:
    canvas.annotate('', xy=(x1, y1), xytext=(x0, y0), arrowprops=arrow_style)
for x0, x1, y in level:
    canvas.annotate('', xy=(x1, y), xytext=(x0, y),
                    arrowprops=dict(arrowstyle='<|-|>,head_length=0.45,head_width=0.18', color='black', lw=1.4,
                                    shrinkA=0, shrinkB=0))

fig.savefig('out.png', dpi=100)
